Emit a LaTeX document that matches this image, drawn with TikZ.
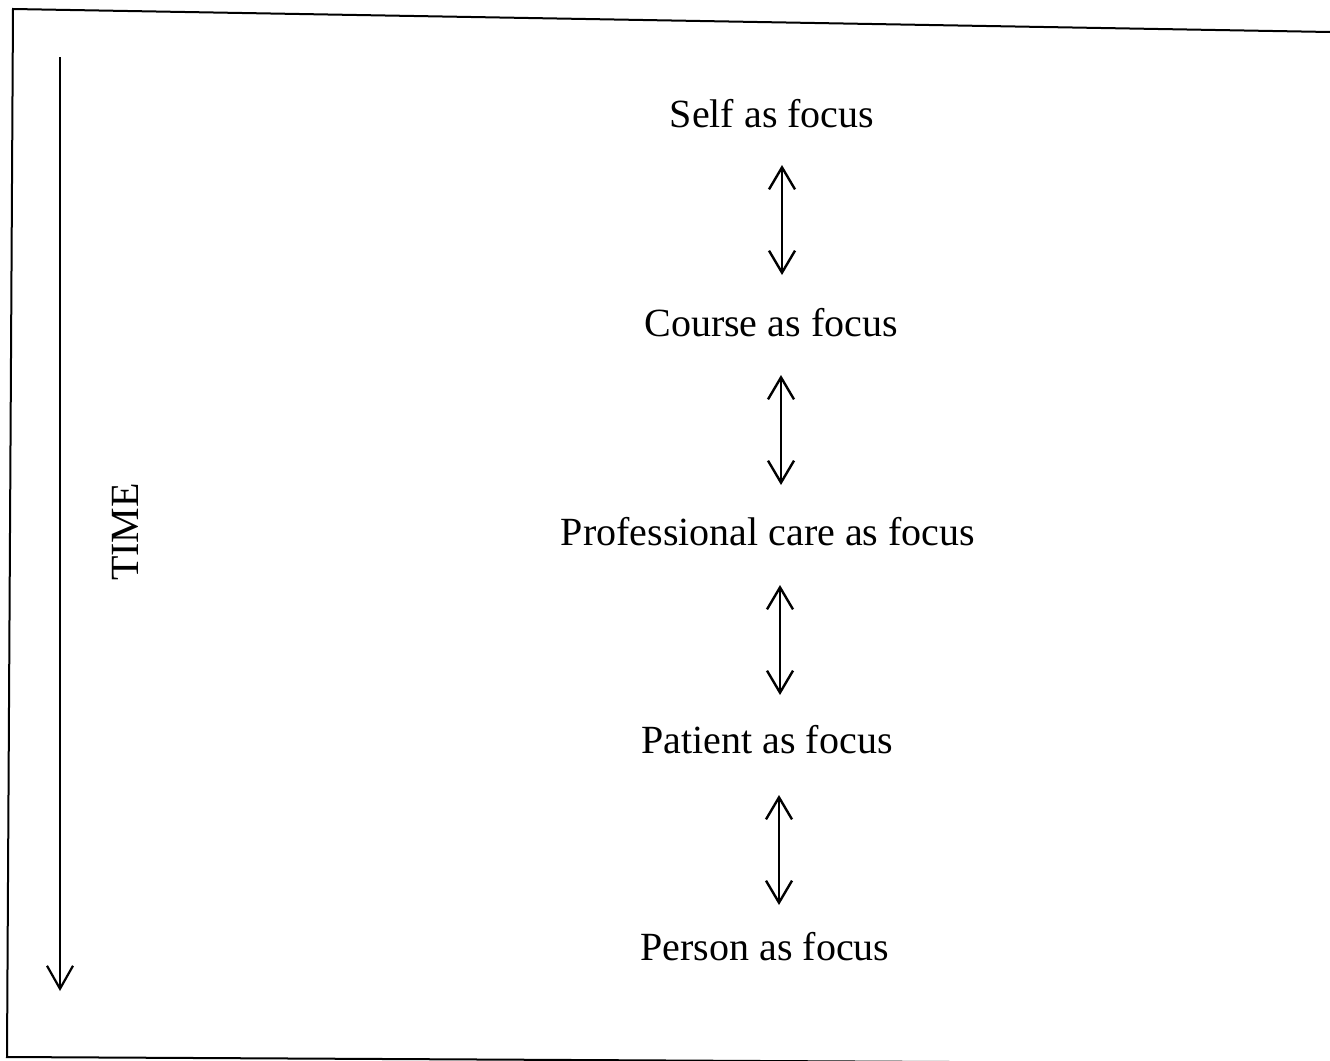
\documentclass[tikz,border=0pt]{standalone}
\usepackage{fontspec}
\setmainfont{Liberation Serif}
\usetikzlibrary{arrows.meta}
\tikzset{
  lbl/.style={inner sep=0pt, font=\fontsize{40}{48}\selectfont},
  dblarrow/.style={line width=2.4pt, {Straight Barb[length=22pt,width=26pt,line width=2.4pt]}-{Straight Barb[length=22pt,width=26pt,line width=2.4pt]}},
  timearrow/.style={line width=2.2pt, -{Straight Barb[length=23pt,width=26pt,line width=2.2pt]}},
  frameline/.style={line width=2pt}
}
\begin{document}
\begin{tikzpicture}[x=1pt,y=-1pt]
\useasboundingbox (0,0) rectangle (1330,1060);
\begin{scope}
\clip (0,0) rectangle (1330,1060);
% frame
\draw[frameline] (1330,32) -- (13,9) -- (7,1057) -- (1330,1064);
\end{scope}
% time axis
\coordinate (t1) at (60,57);
\coordinate (t2) at (60,991);
\draw[timearrow] (t1) -- (t2);
\node[lbl, rotate=90] (time) at (125,532) {TIME};
% labels
\node[lbl] (self) at (772,114) {Self as focus};
\node[lbl] (course) at (771,323) {Course as focus};
\node[lbl] (prof) at (768,532) {Professional care as focus};
\node[lbl] (patient) at (767,740) {Patient as focus};
\node[lbl] (person) at (765,947) {Person as focus};
% arrows
\coordinate (a1) at (782,165); \coordinate (b1) at (782,275);
\coordinate (a2) at (781,375); \coordinate (b2) at (781,485);
\coordinate (a3) at (780,585); \coordinate (b3) at (780,695);
\coordinate (a4) at (779,795); \coordinate (b4) at (779,905);
\draw[dblarrow] (a1) -- (b1);
\draw[dblarrow] (a2) -- (b2);
\draw[dblarrow] (a3) -- (b3);
\draw[dblarrow] (a4) -- (b4);
\end{tikzpicture}
\end{document}
